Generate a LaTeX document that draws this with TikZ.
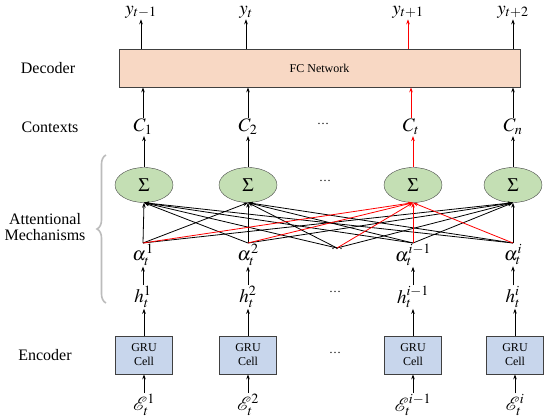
\documentclass[tikz,border=0pt]{standalone}
\usepackage{mathptmx}
\usepackage{fontspec}
\setmainfont{Liberation Serif}
\usepackage{xcolor}
\usepackage{tikz}
\definecolor{fccolor}{RGB}{248, 216, 196}
\definecolor{sumcolor}{RGB}{196, 223, 180}
\definecolor{grucolor}{RGB}{200, 214, 236}
\definecolor{bracecolor}{RGB}{188, 188, 188}
\usetikzlibrary{shapes.geometric, arrows.meta, positioning, decorations.pathreplacing}

\begin{document}
\begin{tikzpicture}[x=1pt, y=-1pt,
    side/.style={font=\fontsize{16}{19}\selectfont, align=center},
    var/.style={font=\fontsize{19}{22}\selectfont, inner sep=1pt},
    gap/.style={font=\fontsize{12}{14}\selectfont, inner sep=0pt},
    fcbox/.style={rectangle, draw=black!75, thick, fill=fccolor, minimum width=401pt, minimum height=38pt, font=\fontsize{12}{14}\selectfont},
    sum/.style={ellipse, draw=black!75, fill=sumcolor, minimum width=58pt, minimum height=35pt, inner sep=0pt, font=\fontsize{19}{22}\selectfont},
    gru/.style={rectangle, draw=black!75, thick, fill=grucolor, minimum width=57pt, minimum height=38pt, align=center, font=\fontsize{12}{14}\selectfont},
    arrow/.style={-{Stealth[length=5pt, width=3.6pt]}, line width=0.8pt},
    hot/.style={arrow, red}
]
    \useasboundingbox (0,0) rectangle (550,418);

    % row labels
    \node[side] (ldec) at (48, 68) {Decoder};
    \node[side] (lctx) at (50, 127) {Contexts};
    \node[side] (latt) at (45, 227) {Attentional\\[-3pt]Mechanisms};
    \node[side] (lenc) at (45, 355) {Encoder};
    \coordinate (btop) at (106, 155);
    \coordinate (bbot) at (106, 303);
    \draw[bracecolor, line width=1.6pt, decorate, decoration={brace, amplitude=9pt}] (bbot) -- (btop);

    % decoder
    \node[fcbox] (fc) at (319.5, 68) {FC Network};
    \node[var] (y1) at (141, 12) {$y_{t-1}$};
    \node[var] (y2) at (246, 12) {$y_{t}$};
    \node[var] (y3) at (408, 12) {$y_{t+1}$};
    \node[var] (y4) at (513, 12) {$y_{t+2}$};
    \draw[arrow] (fc.north -| y1) -- (y1);
    \draw[arrow] (fc.north -| y2) -- (y2);
    \draw[hot] (fc.north -| y3) -- (y3);
    \draw[arrow] (fc.north -| y4) -- (y4);

    % contexts
    \node[var] (c1) at (143, 127) {$C_1$};
    \node[var] (c2) at (248, 127) {$C_2$};
    \node[gap] (cd) at (323, 124) {\ldots};
    \node[var] (c3) at (411, 127) {$C_t$};
    \node[var] (c4) at (513, 127) {$C_n$};
    \draw[arrow] (c1) -- (c1 |- fc.south);
    \draw[arrow] (c2) -- (c2 |- fc.south);
    \draw[hot] (c3) -- (c3 |- fc.south);
    \draw[arrow] (c4) -- (c4 |- fc.south);

    % attention
    \node[sum] (s1) at (144, 185) {$\Sigma$};
    \node[sum] (s2) at (248, 185) {$\Sigma$};
    \node[gap] (sd) at (325, 181) {\ldots};
    \node[sum] (s3) at (413, 185) {$\Sigma$};
    \node[sum] (s4) at (513, 185) {$\Sigma$};
    \draw[arrow] (s1) -- (s1 |- c1.south);
    \draw[arrow] (s2) -- (s2 |- c2.south);
    \draw[hot] (s3) -- (s3 |- c3.south);
    \draw[arrow] (s4) -- (s4 |- c4.south);

    \node[var, anchor=north] (a1) at (143, 243) {$\alpha_t^1$};
    \node[var, anchor=north] (a2) at (248, 243) {$\alpha_t^2$};
    \node[gap, anchor=north] (ad) at (337, 248) {\ldots};
    \node[var, anchor=north] (a3) at (413, 243) {$\alpha_t^{i-1}$};
    \node[var, anchor=north] (a4) at (513, 243) {$\alpha_t^i$};
    \foreach \s in {s1, s2, s4}
        \foreach \a in {a1, a2, ad, a3, a4}
            \draw[arrow] (\a.north) -- (\s.south);
    \foreach \a in {a1, a2, ad, a3, a4}
        \draw[hot] (\a.north) -- (s3.south);

    % encoder
    \node[var] (h1) at (143, 297) {$h_t^1$};
    \node[var] (h2) at (248, 297) {$h_t^2$};
    \node[gap] (hd) at (335, 292) {\ldots};
    \node[var] (h3) at (413, 297) {$h_t^{i-1}$};
    \node[var] (h4) at (513, 297) {$h_t^i$};
    \draw[arrow] (h1) -- (a1);
    \draw[arrow] (h2) -- (a2);
    \draw[arrow] (h3) -- (a3);
    \draw[arrow] (h4) -- (a4);

    \node[gru] (g1) at (144, 355) {GRU\\Cell};
    \node[gru] (g2) at (248, 355) {GRU\\Cell};
    \node[gap] (gd) at (335, 353) {\ldots};
    \node[gru] (g3) at (413, 355) {GRU\\Cell};
    \node[gru] (g4) at (515, 355) {GRU\\Cell};
    \draw[arrow] (g1) -- (g1 |- h1.south);
    \draw[arrow] (g2) -- (g2 |- h2.south);
    \draw[arrow] (g3) -- (g3 |- h3.south);
    \draw[arrow] (g4) -- (g4 |- h4.south);

    \node[var] (e1) at (144, 405) {$\mathcal{E}_t^1$};
    \node[var] (e2) at (248, 405) {$\mathcal{E}_t^2$};
    \node[var] (e3) at (413, 405) {$\mathcal{E}_t^{i-1}$};
    \node[var] (e4) at (515, 405) {$\mathcal{E}_t^i$};
    \draw[arrow] (e1) -- (g1);
    \draw[arrow] (e2) -- (g2);
    \draw[arrow] (e3) -- (g3);
    \draw[arrow] (e4) -- (g4);
\end{tikzpicture}
\end{document}
